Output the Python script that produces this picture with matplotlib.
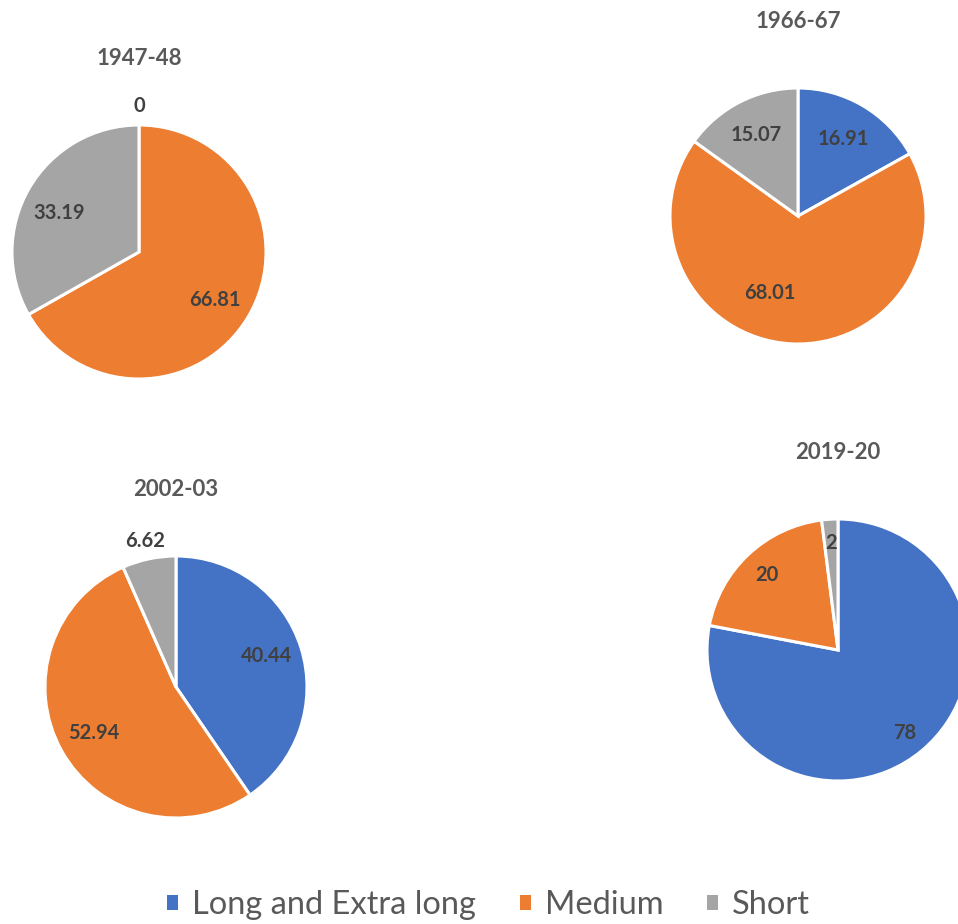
import matplotlib.pyplot as plt
from matplotlib.patches import Patch
import numpy as np

plt.rcParams['font.family'] = ['Lato', 'DejaVu Sans']

# data
categories = ['Long and Extra long', 'Medium', 'Short']
years = ['1947-48', '1966-67', '2002-03', '2019-20']
v1947 = [0, 66.81, 33.19]
v1966 = [16.91, 68.01, 15.07]
v2002 = [40.44, 52.94, 6.62]
v2019 = [78, 20, 2]
labels1947 = ['0', '66.81', '33.19']
labels1966 = ['16.91', '68.01', '15.07']
labels2002 = ['40.44', '52.94', '6.62']
labels2019 = ['78', '20', '2']

colors = ['#4472C4', '#ED7D31', '#A5A5A5']

W, H = 958, 924
fig = plt.figure(figsize=(W / 100, H / 100), dpi=100)

# layout: pie centre (px), radius (px), label (distance, angle offset) per wedge
layout = [
    ((139, 252), 127, [(1.15, 0), (0.71, -2), (0.70, 4)]),
    ((798, 216), 128, [(0.70, 0), (0.64, -17), (0.71, 0)]),
    ((176, 687), 131, [(0.73, 2), (0.72, 0), (1.14, 0)]),
    ((838, 650), 131, [(0.81, -1), (0.79, 0), (0.82, 0)]),
]
values = [v1947, v1966, v2002, v2019]
texts = [labels1947, labels1966, labels2002, labels2019]

for year, vals, labs, ((cx, cy), r, lpos) in zip(years, values, texts, layout):
    ax = fig.add_axes([(cx - r) / W, 1 - (cy + r) / H, 2 * r / W, 2 * r / H])
    wedges, _ = ax.pie(vals, colors=colors, startangle=90, counterclock=False,
                       radius=1, wedgeprops=dict(edgecolor='white', linewidth=2.2))
    for w, lab, (d, off) in zip(wedges, labs, lpos):
        ang = np.deg2rad((w.theta1 + w.theta2) / 2 + off)
        ax.text(d * np.cos(ang), d * np.sin(ang), lab, ha='center', va='center',
                fontsize=14.5, fontweight='bold', color='#404040')
    ax.set_xlim(-1, 1)
    ax.set_ylim(-1, 1)
    ax.set_aspect('equal')
    ax.axis('off')
    ax.set_title(year, fontsize=16, fontweight='bold', color='#595959', pad=43)

handles = [Patch(facecolor=c, edgecolor='none') for c in colors]
fig.legend(handles, categories, loc='center', bbox_to_anchor=(0.51, 1 - 905 / H),
           ncol=3, frameon=False, fontsize=23.5, handlelength=0.34, handleheight=0.34,
           handletextpad=0.42, columnspacing=1.35, labelcolor='#595959')

fig.savefig('out.png', dpi=100)
